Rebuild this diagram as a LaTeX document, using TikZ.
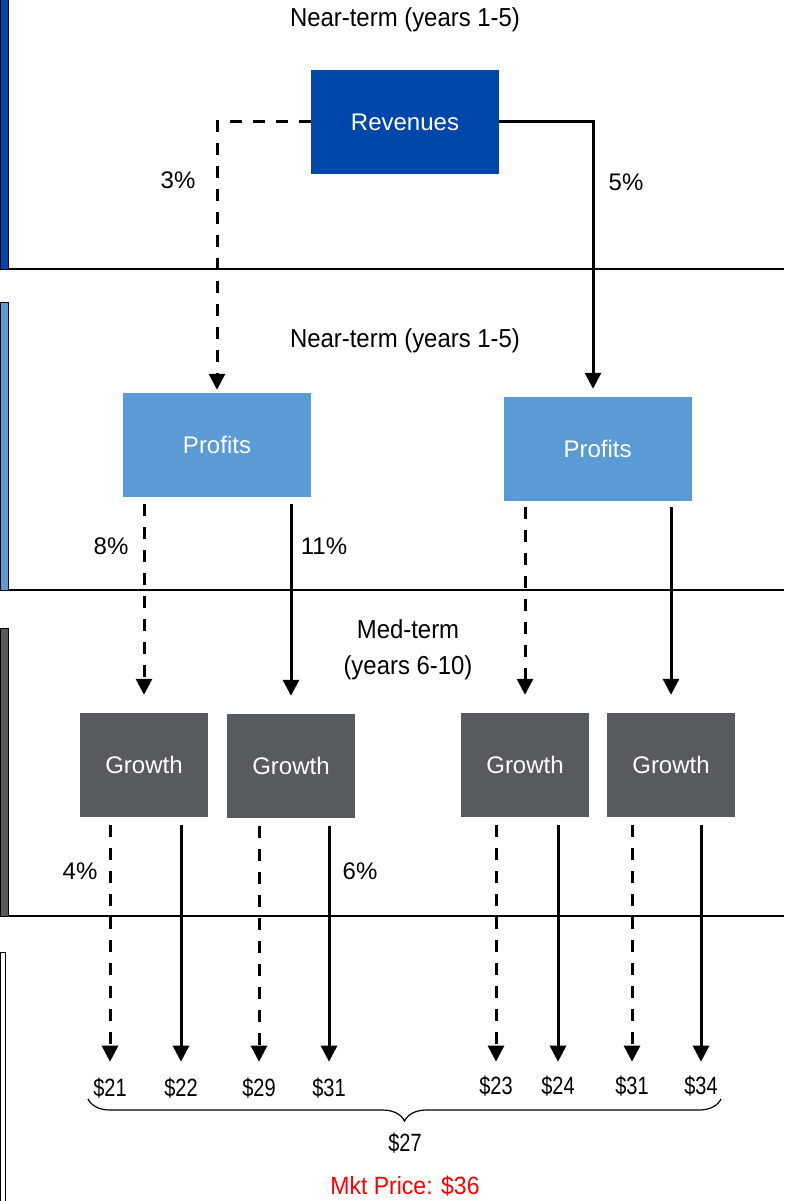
\documentclass[tikz,border=0pt]{standalone}
\usepackage{fontspec}
\setmainfont{Liberation Sans}
\newfontfamily\narrowfont[FakeStretch=0.8]{Liberation Sans}
\newfontfamily\semifont[FakeStretch=0.92]{Liberation Sans}
\usetikzlibrary{arrows.meta,decorations.pathreplacing,calc}
\definecolor{revblue}{HTML}{0047AB}
\definecolor{profblue}{HTML}{5B9BD5}
\definecolor{growgray}{HTML}{585B5E}
\begin{document}
\begin{tikzpicture}[x=1pt,y=-1pt,
  box/.style={rectangle,inner sep=0pt,text=white,font=\fontsize{24}{28}\selectfont},
  revbox/.style={box,fill=revblue,minimum width=188pt,minimum height=104pt},
  profbox/.style={box,fill=profblue,minimum width=188pt,minimum height=104pt},
  growbox/.style={box,fill=growgray,minimum width=128pt,minimum height=104pt},
  lbl/.style={font=\fontsize{24}{30}\selectfont,inner sep=0pt},
  ttl/.style={font=\semifont\fontsize{26}{36}\selectfont,inner sep=0pt},
  price/.style={font=\narrowfont\fontsize{25}{28}\selectfont,inner sep=0pt},
  flow/.style={line width=3pt,-{Triangle[width=16pt,length=16pt]}},
  dflow/.style={flow,dash pattern=on 12pt off 11pt},
  bar/.style={draw=black,line width=1pt},
  divider/.style={draw=black,line width=1.3pt},
]
\useasboundingbox (0,0) rectangle (784,1201);

% left bars
\path[bar,fill=revblue] (0.5,-5) rectangle (8,269);
\path[bar,fill=profblue] (0.5,302) rectangle (8,590);
\path[bar,fill=growgray] (0.5,628) rectangle (8,916);
\path[bar,fill=white] (0.5,952) rectangle (5.5,1210);

% dividers
\draw[divider] (8,269) -- (784,269);
\draw[divider] (8,590) -- (784,590);
\draw[divider] (8,916) -- (784,916);

% section titles
\node[ttl] (t1) at (405,20) {Near-term (years 1-5)};
\node[ttl] (t2) at (405,341) {Near-term (years 1-5)};
\node[ttl,align=center] (t3) at (408,650) {Med-term\\(years 6-10)};

% boxes
\node[revbox] (rev) at (405,122) {Revenues};
\node[profbox] (pl) at (217,445) {Profits};
\node[profbox] (pr) at (597.5,449) {Profits};
\node[growbox] (g1) at (144,765) {Growth};
\node[growbox] (g2) at (291,766) {Growth};
\node[growbox] (g3) at (525,765) {Growth};
\node[growbox] (g4) at (671,765) {Growth};

% percentages
\node[lbl] (p3) at (178,180) {3\%};
\node[lbl] (p5) at (626,182) {5\%};
\node[lbl] (p8) at (111,546) {8\%};
\node[lbl] (p11) at (324,546) {11\%};
\node[lbl] (p4) at (80,871) {4\%};
\node[lbl] (p6) at (360,871) {6\%};

% prices
\node[price] (v21) at (110,1088) {\$21};
\node[price] (v22) at (181,1088) {\$22};
\node[price] (v29) at (259,1088) {\$29};
\node[price] (v31a) at (329,1088) {\$31};
\node[price] (v23) at (496,1086) {\$23};
\node[price] (v24) at (558,1086) {\$24};
\node[price] (v31b) at (632,1086) {\$31};
\node[price] (v34) at (701,1086) {\$34};

% revenue connectors
\draw[dflow] (rev.west) -| ([yshift=3pt]pl.north);
\draw[flow] (rev.east) -| ([xshift=-4.5pt,yshift=8pt]pr.north);

% profit connectors
\draw[dflow] ([yshift=-7pt]pl.south -| g1.north) -- ([yshift=18pt]g1.north);
\draw[flow] ([yshift=-7pt]pl.south -| g2.north) -- ([yshift=18pt]g2.north);
\draw[dflow] ([yshift=-6pt]pr.south -| g3.north) -- ([yshift=18pt]g3.north);
\draw[flow] ([yshift=-6pt]pr.south -| g4.north) -- ([yshift=18pt]g4.north);

% growth connectors
\draw[dflow,shorten >=16pt] ([yshift=-8pt]g1.south -| v21) -- (v21.north);
\draw[flow,shorten >=16pt] ([yshift=-8pt]g1.south -| v22) -- (v22.north);
\draw[dflow,shorten >=16pt] ([yshift=-8pt]g2.south -| v29) -- (v29.north);
\draw[flow,shorten >=16pt] ([yshift=-8pt]g2.south -| v31a) -- (v31a.north);
\draw[dflow,shorten >=14pt] ([yshift=-8pt]g3.south -| v23) -- (v23.north);
\draw[flow,shorten >=14pt] ([yshift=-8pt]g3.south -| v24) -- (v24.north);
\draw[dflow,shorten >=14pt] ([yshift=-8pt]g4.south -| v31b) -- (v31b.north);
\draw[flow,shorten >=14pt] ([yshift=-8pt]g4.south -| v34) -- (v34.north);

% brace
\coordinate (bl) at (88,1099);
\coordinate (br) at (721,1099);
\draw[line width=1.2pt,decorate,decoration={brace,mirror,amplitude=22pt,aspect=0.5}] (bl) -- (br);
\node[price] (avg) at (405,1143) {\$27};
\node[ttl,text=red,font=\semifont\fontsize{25}{30}\selectfont] (mkt) at (405,1186) {Mkt Price: \$36};
\end{tikzpicture}
\end{document}
